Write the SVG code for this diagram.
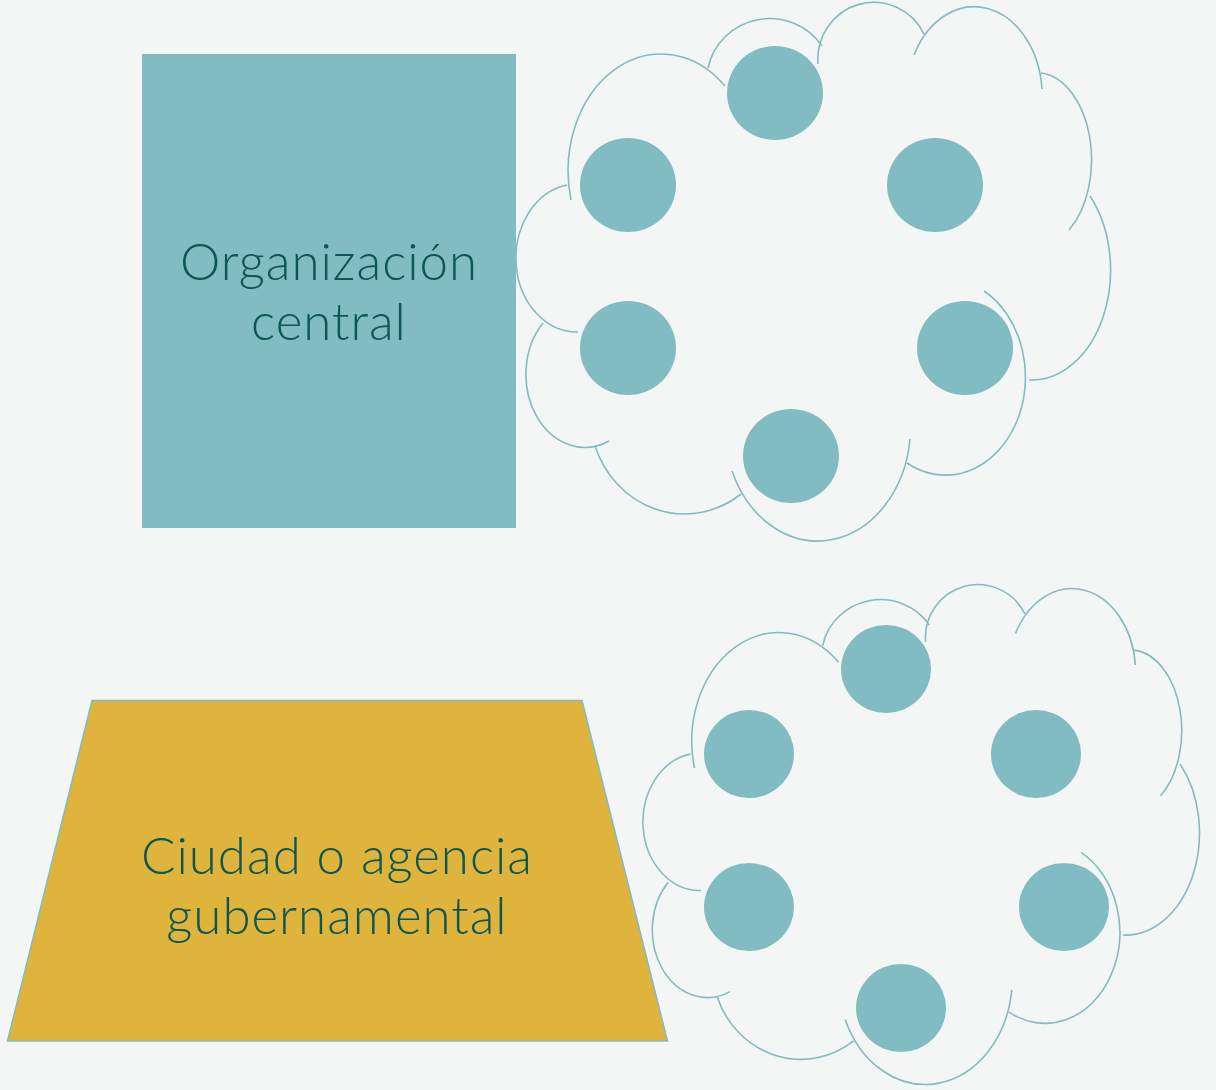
<svg xmlns="http://www.w3.org/2000/svg" xmlns:xlink="http://www.w3.org/1999/xlink" width="1216" height="1090" viewBox="0 0 1216 1090">
  <style>
    .cloud { fill: none; stroke: #80BCC2; stroke-width: 1.6; }
    .dot { fill: #80BCC2; }
    .lbl { font-family: Lato, "Open Sans", "Liberation Sans", sans-serif; font-size: 51px; font-weight: 300; letter-spacing: 1px; fill: #0D5653; text-anchor: middle; }
  </style>
  <defs>
    <path id="cloudShape" d="M571,200 A93,117 0 0 1 725,86 M708,68 A63,62 0 0 1 822,46 M818,64 A56,57 0 0 1 924,34 M914,55 A68,90 0 0 1 1042,89 M1041,73 A55,87 0 0 1 1069,230 M1090,196 A79,110 0 0 1 1029,380 M984,291 A79,97 0 1 1 907,463 M910,439 A93,115 0 0 1 732,471 M741,494 A95,102 0 0 1 595,446 M609,441 A59,73 0 0 1 543,323 M578,332 A61,74 0 0 1 567,185"/>
  </defs>
  <rect x="0" y="0" width="1216" height="1090" fill="#F4F6F5"/>

  <g id="cloud-top">
    <use xlink:href="#cloudShape" class="cloud"/>
  </g>
  <g id="org-central">
    <rect x="142" y="54" width="374" height="474" fill="#80BCC2"/>
    <text class="lbl" x="329" y="280">Organización</text>
    <text class="lbl" x="329" y="340">central</text>
  </g>
  <g id="top-dots">
    <ellipse class="dot" cx="775" cy="93" rx="48" ry="47"/>
    <ellipse class="dot" cx="628" cy="185" rx="48" ry="47"/>
    <ellipse class="dot" cx="935" cy="185" rx="48" ry="47"/>
    <ellipse class="dot" cx="628" cy="348" rx="48" ry="47"/>
    <ellipse class="dot" cx="965" cy="348" rx="48" ry="47"/>
    <ellipse class="dot" cx="791" cy="456" rx="48" ry="47"/>
  </g>

  <g id="ciudad">
    <polygon points="92,700.5 582,700.5 667.5,1041 7.5,1041" fill="#DFB43C" stroke="#80BCC2" stroke-width="1.5"/>
    <text class="lbl" x="337" y="874">Ciudad o agencia</text>
    <text class="lbl" x="337" y="934">gubernamental</text>
  </g>
  <g id="cloud-bottom">
    <use xlink:href="#cloudShape" class="cloud" transform="matrix(0.936 0 0 0.928 160 582.4)" style="stroke-width:1.7"/>
  </g>
  <g id="bottom-dots">
    <ellipse class="dot" cx="886" cy="669" rx="45" ry="44"/>
    <ellipse class="dot" cx="749" cy="754" rx="45" ry="44"/>
    <ellipse class="dot" cx="1036" cy="754" rx="45" ry="44"/>
    <ellipse class="dot" cx="749" cy="907" rx="45" ry="44"/>
    <ellipse class="dot" cx="1064" cy="907" rx="45" ry="44"/>
    <ellipse class="dot" cx="901" cy="1008" rx="45" ry="44"/>
  </g>
  <g id="connectors"></g>
</svg>
